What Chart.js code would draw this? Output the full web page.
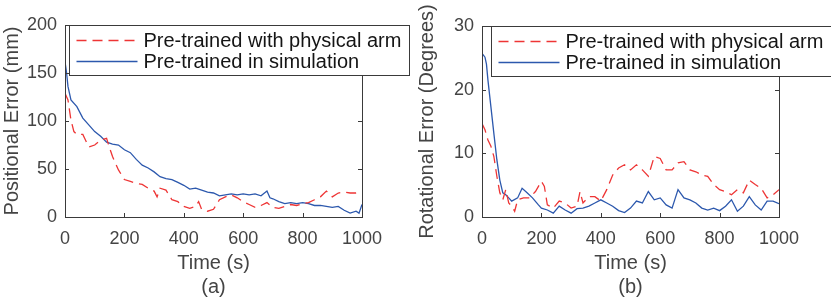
<!DOCTYPE html>
<html>
<head>
<meta charset="utf-8">
<script src="https://cdn.jsdelivr.net/npm/chart.js@4/dist/chart.umd.min.js"></script>
<style>
  body { margin: 0; background: #fff; }
  #wrap { position: relative; width: 831px; height: 300px; }
  #graphe_a { position: absolute; left: 0; top: 0; }
  #graphe_b { position: absolute; left: 415px; top: 0; }
</style>
</head>
<body>
<div id="wrap">
  <canvas id="graphe_a" width="415" height="300"></canvas>
  <canvas id="graphe_b" width="416" height="300"></canvas>
</div>
<script>
// Series labels
var V_labels = ['Pre-trained with physical arm', 'Pre-trained in simulation'];

// X ticks (time, s)
var V_xTicks = [0, 200, 400, 600, 800, 1000];
// Y ticks
var V_yTicksA = [0, 50, 100, 150, 200];
var V_yTicksB = [0, 10, 20, 30];

// (a) positional error, physical arm
var V_timeA_arm = [0,10,20,30,40,60,80,100,120,140,150,160,180,200,220,240,260,280,300,310,320,340,360,380,400,420,440,450,460,480,500,520,540,560,580,600,620,640,660,680,700,720,740,760,780,800,820,840,860,880,900,920,940,960,980,1000];
var V_errA_arm = [129,122,101,89,86,86,73,75,80,82,72,63,49,39,37,35,34,30,27,21,30,28,18,16,11,9,11,16,8,6,8,18,21,23,20,16,13,10,12,15,10,9,11,13,12,14,15,18,21,27,21,25,26,25,25,26];

// (a) positional error, simulation
var V_timeA_sim = [0,5,10,20,40,60,80,100,120,140,160,180,200,220,240,260,280,300,320,340,360,380,400,420,440,460,480,500,520,540,560,580,600,620,640,660,680,690,700,720,740,760,780,800,820,840,860,880,900,920,940,960,980,990,1000];
var V_errA_sim = [162,151,136,122,115,103,96,89,84,78,76,75,70,67,60,54,51,47,42,40,39,36,33,29,30,28,26,25,22,23,24,23,24,23,24,22,27,20,19,16,14,15,14,15,14,12,12,11,10,11,7,4,6,4,13];

// (b) rotational error, physical arm
var V_timeB_arm = [0,10,20,30,40,50,60,70,80,90,100,110,120,140,160,180,200,210,220,240,260,280,300,320,330,340,360,380,400,420,440,460,480,500,520,540,560,580,600,620,640,660,680,700,720,740,760,780,800,820,840,860,880,900,920,940,960,980,1000];
var V_errB_arm = [14.7,13.7,12.1,11.1,9.5,6.4,3.8,2.7,4.3,2.2,1.7,0.9,2.7,3,3,4,5.6,4.8,1.9,1.4,2.5,2.2,1.4,1.7,4,2.2,3.2,3.2,2.5,4.3,6.6,7.7,8.2,7.4,8.2,7.4,6.4,9.5,9.2,7.4,7.4,8.5,8.7,7.4,7.1,6.6,6.4,5.1,4.3,4,3.5,4.3,3.8,5.8,5.1,4.5,3,3.5,4.3];

// (b) rotational error, simulation
var V_timeB_sim = [0,10,15,20,30,40,50,60,70,80,90,100,120,135,150,170,190,200,220,240,260,280,300,320,340,360,380,400,420,440,460,480,500,520,540,560,580,600,620,640,660,680,700,720,740,760,780,800,820,840,860,880,900,920,940,960,980,1000];
var V_errB_sim = [25.7,25.1,24,21.5,17.3,13.1,9,5.8,3.8,3.5,3,2.5,3,4.5,3.9,3,1.9,1.4,1.1,0.6,1.7,1.1,0.6,1.3,1.4,1.7,2.2,2.7,2.2,1.7,1.0,0.7,1.4,2.5,2.2,4,2.7,3,1.9,1.4,4.3,3,2.7,2.2,1.4,1.1,1.4,1,1.7,2.7,0.9,1.7,3.2,1.9,1.1,2.5,2.5,2.1];

var S_red = '#ee3535';
var S_blue = '#2c58ad';
var S_axisColor = '#3a3a3a';
var S_textColor = '#444444';
var V_dash = [10, 6];

Chart.defaults.font.family = '"Liberation Sans", Arial, Helvetica, sans-serif';

function F_toPoints(V_x, V_y){
    var V_pts = [];
    for (var i = 0; i < V_x.length; i++){ V_pts.push({x: V_x[i], y: V_y[i]}); }
    return V_pts;
}

// box + inward tick marks, like matlab
function F_framePlugin(){
    return {
        id: 'frame',
        afterDatasetsDraw: function(chart){
            var ctx = chart.ctx, a = chart.chartArea;
            var sx = chart.scales.x, sy = chart.scales.y;
            ctx.save();
            ctx.strokeStyle = S_axisColor;
            ctx.lineWidth = 1;
            ctx.strokeRect(Math.round(a.left) + 0.5, Math.round(a.top) + 0.5,
                Math.round(a.right - a.left), Math.round(a.bottom - a.top));
            ctx.beginPath();
            sx.ticks.forEach(function(t){
                var px = Math.round(sx.getPixelForValue(t.value)) + 0.5;
                ctx.moveTo(px, a.bottom); ctx.lineTo(px, a.bottom - 4);
                ctx.moveTo(px, a.top); ctx.lineTo(px, a.top + 4);
            });
            sy.ticks.forEach(function(t){
                var py = Math.round(sy.getPixelForValue(t.value)) + 0.5;
                ctx.moveTo(a.left, py); ctx.lineTo(a.left + 4, py);
                ctx.moveTo(a.right, py); ctx.lineTo(a.right - 4, py);
            });
            ctx.stroke();
            ctx.restore();
        }
    };
}

// legend box drawn inside the plot area
function F_legendPlugin(I_offset){
    return {
        id: 'boxLegend',
        afterDraw: function(chart){
            var ctx = chart.ctx, a = chart.chartArea;
            var I_left = Math.round(a.left + I_offset) + 0.5;
            var I_top = Math.round(a.top) + 0.5;
            var I_w = 340, I_h = 50;
            ctx.save();
            ctx.fillStyle = '#fff';
            ctx.fillRect(I_left, I_top, I_w, I_h);
            ctx.strokeStyle = S_axisColor;
            ctx.lineWidth = 1;
            ctx.strokeRect(I_left, I_top, I_w, I_h);
            ctx.font = '20px "Liberation Sans", Arial, sans-serif';
            ctx.textBaseline = 'middle';
            chart.data.datasets.forEach(function(ds, i){
                var I_y = I_top + 15 + i * 21;
                ctx.beginPath();
                ctx.strokeStyle = ds.borderColor;
                ctx.lineWidth = ds.borderWidth;
                ctx.setLineDash(ds.borderDash || []);
                ctx.moveTo(I_left + 7, I_y);
                ctx.lineTo(I_left + 68, I_y);
                ctx.stroke();
                ctx.setLineDash([]);
                ctx.fillStyle = '#151515';
                ctx.fillText(ds.label, I_left + 74, I_y + 1);
            });
            ctx.restore();
        }
    };
}

function F_makeChart(S_id, V_arm, V_sim, V_yTicks, S_yTitle, S_sub, I_yWidth, I_top, I_right, I_legOffset){
    var O_ctx = document.getElementById(S_id).getContext('2d');
    return new Chart(O_ctx, {
        type: 'line',
        data: {
            datasets: [
                { label: V_labels[0], data: V_arm, borderColor: S_red, borderWidth: 1.3,
                  borderDash: V_dash, pointRadius: 0, tension: 0, fill: false },
                { label: V_labels[1], data: V_sim, borderColor: S_blue, borderWidth: 1.3,
                  pointRadius: 0, tension: 0, fill: false }
            ]
        },
        options: {
            responsive: false,
            animation: false,
            layout: { padding: { left: 0, top: I_top, right: I_right, bottom: 0 } },
            plugins: { legend: { display: false }, tooltip: { enabled: false } },
            scales: {
                x: {
                    type: 'linear',
                    min: V_xTicks[0],
                    max: V_xTicks[V_xTicks.length - 1],
                    afterBuildTicks: function(s){ s.ticks = V_xTicks.map(function(v){ return {value: v}; }); },
                    afterFit: function(s){ s.height = 83; },
                    grid: { display: false, drawTicks: false },
                    border: { display: false },
                    ticks: { color: S_textColor, font: { size: 18 }, padding: 11, maxRotation: 0,
                             callback: function(v){ return String(v); } },
                    title: { display: true, text: ['Time (s)', S_sub], color: S_textColor,
                             font: { size: 20, lineHeight: 1.2 }, padding: { top: 0, bottom: 1 } }
                },
                y: {
                    min: V_yTicks[0],
                    max: V_yTicks[V_yTicks.length - 1],
                    afterBuildTicks: function(s){ s.ticks = V_yTicks.map(function(v){ return {value: v}; }); },
                    afterFit: function(s){ s.width = I_yWidth; },
                    grid: { display: false, drawTicks: false },
                    border: { display: false },
                    ticks: { color: S_textColor, font: { size: 18 }, padding: 8,
                             callback: function(v){ return String(v); } },
                    title: { display: true, text: S_yTitle, color: S_textColor,
                             font: { size: 20, lineHeight: 1.2 }, padding: { top: 0, bottom: 0 } }
                }
            }
        },
        plugins: [F_framePlugin(), F_legendPlugin(I_legOffset)]
    });
}

F_makeChart('graphe_a', F_toPoints(V_timeA_arm, V_errA_arm), F_toPoints(V_timeA_sim, V_errA_sim),
    V_yTicksA, 'Positional Error (mm)', '(a)', 65, 25, 53, 4);
F_makeChart('graphe_b', F_toPoints(V_timeB_arm, V_errB_arm), F_toPoints(V_timeB_sim, V_errB_sim),
    V_yTicksB, 'Rotational Error (Degrees)', '(b)', 67, 26, 52, 9);
</script>
</body>
</html>
